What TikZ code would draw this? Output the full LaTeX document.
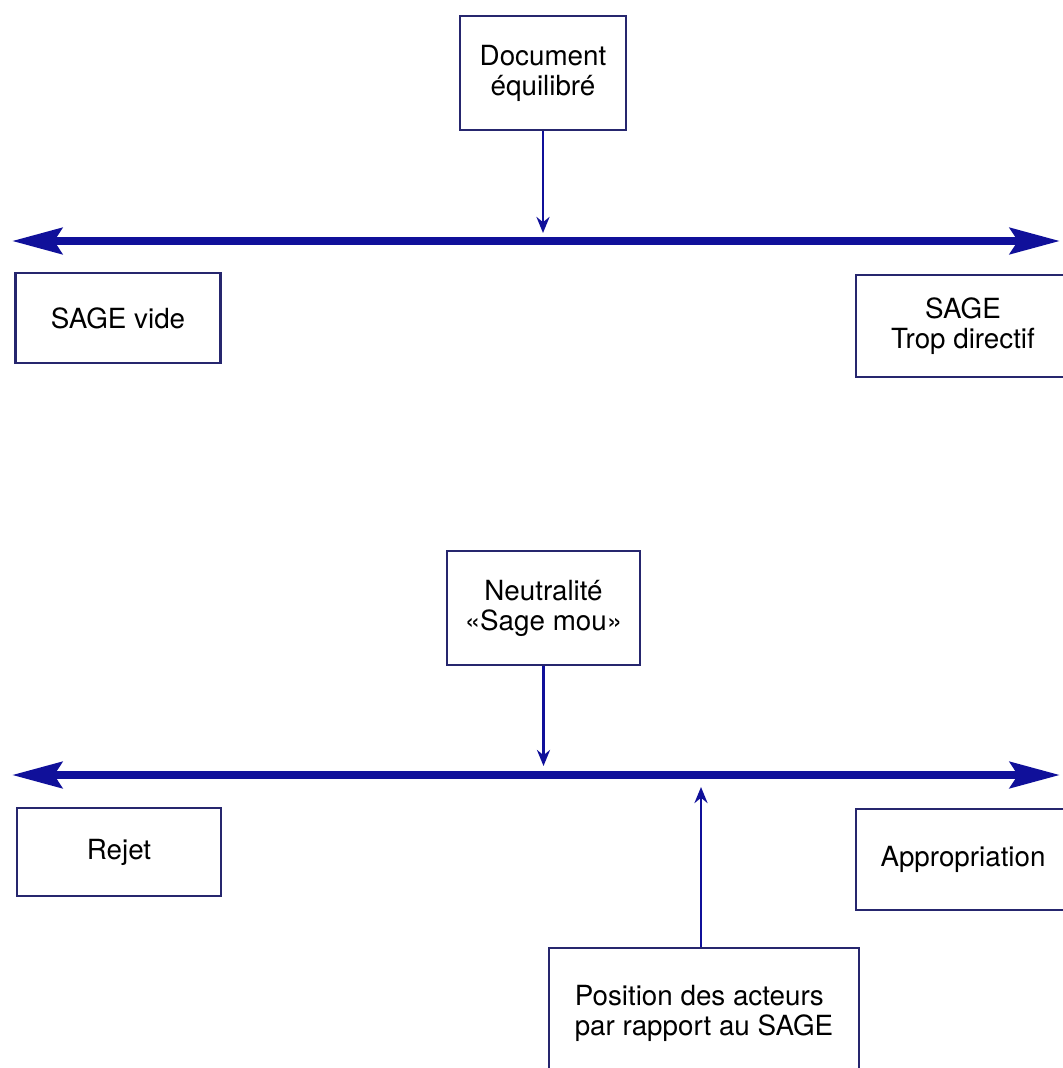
\documentclass[tikz,border=0pt]{standalone}
\usepackage{fontspec}
\setmainfont{TeX Gyre Heros}
\usepackage{tikz}
\usetikzlibrary{arrows.meta}
\definecolor{sagenavy}{HTML}{26266E}
\definecolor{sageblue}{HTML}{10109A}
\tikzset{
  sagebox/.style={
    draw=sagenavy,
    line width=0.8pt,
    fill=white,
    inner sep=0pt,
    align=center,
    font=\fontsize{7.9}{8.5}\selectfont
  },
  axis/.style={
    {Stealth[length=5mm,width=2.6mm,inset=0.8mm]}-{Stealth[length=5mm,width=2.6mm,inset=0.8mm]},
    line width=2.3pt,
    draw=sageblue
  },
  pointer/.style={
    -{Stealth[length=1.6mm,width=1.3mm]},
    line width=0.8pt,
    draw=sageblue
  }
}

\begin{document}
\begin{tikzpicture}
\path[use as bounding box, fill=white] (0,0) rectangle (10.63,-10.68);

% upper scale
\node[sagebox, minimum width=1.66cm, minimum height=1.14cm] (equil) at (5.43,-0.73) {Document\\équilibré};
\coordinate (axisAL) at (0.12,-2.41);
\coordinate (axisAR) at (10.60,-2.41);
\coordinate (equilTip) at (5.43,-2.33);
\node[sagebox, minimum width=2.05cm, minimum height=0.90cm] (vide) at (1.18,-3.18) {SAGE vide};
\node[sagebox, minimum width=2.14cm, minimum height=1.02cm] (directif) at (9.63,-3.26) {SAGE\\Trop directif};
\draw[axis] (axisAL) -- (axisAR);
\draw[pointer] (equil.south) -- (equilTip);

% lower scale
\node[sagebox, minimum width=1.93cm, minimum height=1.14cm] (neutre) at (5.435,-6.08) {Neutralité\\«Sage mou»};
\coordinate (axisBL) at (0.12,-7.75);
\coordinate (axisBR) at (10.60,-7.75);
\coordinate (neutreTip) at (5.435,-7.66);
\node[sagebox, minimum width=2.04cm, minimum height=0.88cm] (rejet) at (1.19,-8.52) {Rejet};
\node[sagebox, minimum width=2.14cm, minimum height=1.01cm] (approp) at (9.63,-8.595) {Appropriation};
\node[sagebox, minimum width=3.10cm, minimum height=1.30cm, align=left] (acteurs) at (7.04,-10.13) {Position des acteurs\\par rapport au SAGE};
\coordinate (acteursTip) at (7.01,-7.87);
\draw[axis] (axisBL) -- (axisBR);
\draw[pointer] (neutre.south) -- (neutreTip);
\draw[pointer] (acteurs.north -| acteursTip) -- (acteursTip);
\end{tikzpicture}
\end{document}
